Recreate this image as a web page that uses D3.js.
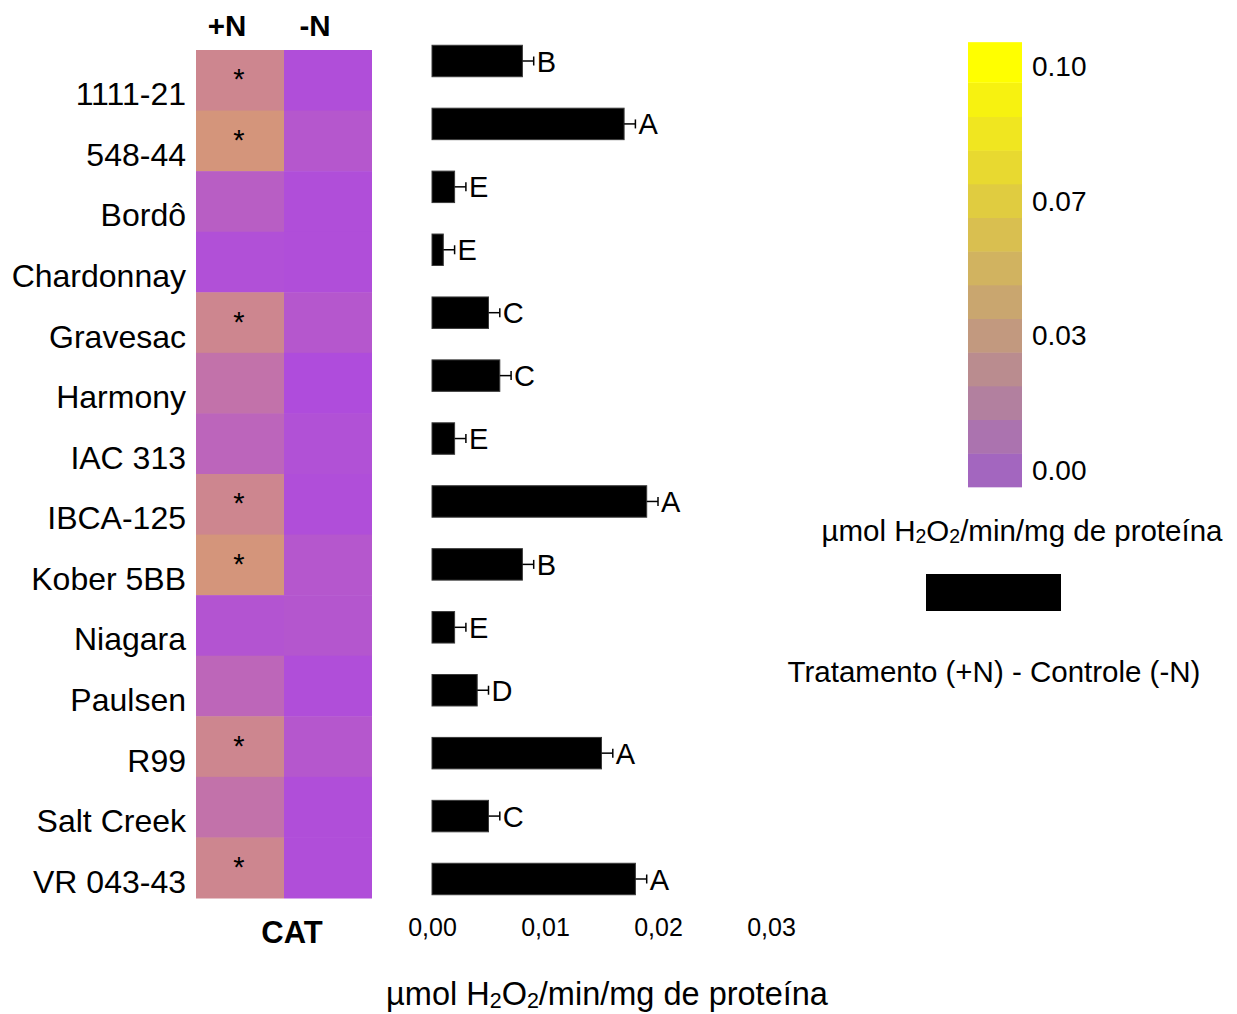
<!DOCTYPE html>
<html>
<head>
<meta charset="utf-8">
<script src="https://cdn.jsdelivr.net/npm/d3@7/dist/d3.min.js"></script>
<style>
  html, body { margin: 0; padding: 0; background: #fff; }
  svg { display: block; font-family: "Liberation Sans", Arial, sans-serif; }
</style>
</head>
<body>
<svg id="chart" width="1237" height="1014"></svg>
<script>
// Cultivars / rootstocks
const cultivars = ["1111-21", "548-44", "Bordô", "Chardonnay", "Gravesac", "Harmony", "IAC 313",
  "IBCA-125", "Kober 5BB", "Niagara", "Paulsen", "R99", "Salt Creek", "VR 043-43"];

// Heatmap columns
const treatments = ["+N", "-N"];

// CAT activity (µmol H2O2/min/mg de proteína) per treatment
const catPlusN  = [0.0216, 0.0273, 0.0066, 0.0015, 0.0216, 0.0141, 0.0093, 0.0216, 0.0273, 0.0030, 0.0099, 0.0216, 0.0141, 0.0216];
const catMinusN = [0.0009, 0.0042, 0.0009, 0.0009, 0.0042, 0.0000, 0.0018, 0.0009, 0.0042, 0.0039, 0.0009, 0.0042, 0.0009, 0.0009];

// Significant difference between +N and -N
const significant = [true, true, false, false, true, false, false, true, true, false, false, true, false, true];

// Difference Tratamento (+N) - Controle (-N), standard error and letter groups
const diffValues = [0.008, 0.017, 0.002, 0.001, 0.005, 0.006, 0.002, 0.019, 0.008, 0.002, 0.004, 0.015, 0.005, 0.018];
const diffErrors = [0.001, 0.001, 0.001, 0.001, 0.001, 0.001, 0.001, 0.001, 0.001, 0.001, 0.001, 0.001, 0.001, 0.001];
const diffLetters = ["B", "A", "E", "E", "C", "C", "E", "A", "B", "E", "D", "A", "C", "A"];

// Bar axis ticks
const barTicks = [0, 0.01, 0.02, 0.03];

// Colour legend: stepped scale and labelled ticks
const legendMax = 0.10;
const legendSteps = 12;
const legendTickValues = [0, 0.1 / 3, 0.2 / 3, 0.1];
const legendTickLabels = ["0.00", "0.03", "0.07", "0.10"];

const sub2 = "<tspan baseline-shift='-0.12em' font-size='0.66em'>2</tspan>";
const unitLabel = "µmol H" + sub2 + "O" + sub2 + "/min/mg de proteína";

const svg = d3.select("#chart");

// ---------- Heatmap ----------
const hx = d3.scaleBand().domain(treatments).range([196, 372]);
const hy = d3.scaleBand().domain(cultivars).range([50, 898]);
const cellColor = d3.scaleLinear().domain([0, 0.03]).range(["#AF4CDC", "#D89C71"]).clamp(true);

const cells = [];
cultivars.forEach((c, i) => {
  cells.push({ cultivar: c, treatment: "+N", value: catPlusN[i], sig: significant[i] });
  cells.push({ cultivar: c, treatment: "-N", value: catMinusN[i], sig: false });
});

svg.append("g").selectAll("rect").data(cells).join("rect")
  .attr("x", d => hx(d.treatment))
  .attr("y", d => hy(d.cultivar))
  .attr("width", hx.bandwidth())
  .attr("height", hy.bandwidth() + 0.5)
  .attr("fill", d => cellColor(d.value));

svg.append("g").selectAll("text").data(cells.filter(d => d.sig)).join("text")
  .attr("x", d => hx(d.treatment) + hx.bandwidth() / 2 - 1)
  .attr("y", d => hy(d.cultivar) + hy.bandwidth() / 2 + 9)
  .attr("text-anchor", "middle")
  .attr("font-size", 29)
  .text("*");

// Row labels
svg.append("g").selectAll("text").data(cultivars).join("text")
  .attr("x", 186)
  .attr("y", d => hy(d) + hy.bandwidth() / 2 + 25)
  .attr("text-anchor", "end")
  .attr("font-size", 32)
  .attr("fill", "#000")
  .text(d => d);

// Column headers
svg.append("g").selectAll("text").data(treatments).join("text")
  .attr("x", d => hx(d) + hx.bandwidth() / 2 - 13)
  .attr("y", 36)
  .attr("text-anchor", "middle")
  .attr("font-size", 29.5)
  .attr("font-weight", "bold")
  .text(d => d);

svg.append("text")
  .attr("x", 292).attr("y", 943)
  .attr("text-anchor", "middle")
  .attr("font-size", 31)
  .attr("font-weight", "bold")
  .text("CAT");

// ---------- Bar chart of differences ----------
const bx = d3.scaleLinear().domain([0, 0.03]).range([432, 771]);
const by = d3.scalePoint().domain(cultivars).range([61, 879]);
const barH = by.step() * 0.5;

const bars = cultivars.map((c, i) => ({ cultivar: c, value: diffValues[i], err: diffErrors[i], letter: diffLetters[i] }));

const gb = svg.append("g");
gb.selectAll("rect").data(bars).join("rect")
  .attr("x", bx(0))
  .attr("y", d => by(d.cultivar) - barH / 2)
  .attr("width", d => bx(d.value) - bx(0))
  .attr("height", barH)
  .attr("fill", "#000")
  .attr("stroke", "#3a3a3a")
  .attr("stroke-width", 1);

gb.selectAll("line.err").data(bars).join("line").attr("class", "err")
  .attr("x1", d => bx(d.value))
  .attr("x2", d => bx(d.value + d.err))
  .attr("y1", d => by(d.cultivar))
  .attr("y2", d => by(d.cultivar))
  .attr("stroke", "#000").attr("stroke-width", 1.5);

gb.selectAll("line.cap").data(bars).join("line").attr("class", "cap")
  .attr("x1", d => bx(d.value + d.err))
  .attr("x2", d => bx(d.value + d.err))
  .attr("y1", d => by(d.cultivar) - 4.5)
  .attr("y2", d => by(d.cultivar) + 4.5)
  .attr("stroke", "#000").attr("stroke-width", 1.5);

gb.selectAll("text").data(bars).join("text")
  .attr("x", d => bx(d.value + d.err) + 3)
  .attr("y", d => by(d.cultivar) + 10.5)
  .attr("font-size", 29)
  .text(d => d.letter);

// Bottom axis with comma decimals
const ptBR = d3.formatLocale({ decimal: ",", thousands: ".", grouping: [3], currency: ["R$", ""] });
const axis = svg.append("g")
  .attr("transform", "translate(0,912)")
  .call(d3.axisBottom(bx).tickValues(barTicks).tickSize(0).tickPadding(0).tickFormat(ptBR.format(".2f")));
axis.select(".domain").remove();
axis.selectAll("text")
  .attr("font-size", 25)
  .attr("font-family", "Liberation Sans, Arial, sans-serif")
  .attr("fill", "#000")
  .attr("dy", "0.95em");

svg.append("text")
  .attr("x", 607).attr("y", 1005)
  .attr("text-anchor", "middle")
  .attr("font-size", 32.5)
  .html(unitLabel);

// ---------- Colour legend ----------
const ly = d3.scaleLinear().domain([0, legendMax]).range([470, 66]);
const legendColor = d3.interpolateRgb("#A366BF", "#FFFF00");
const half = legendMax / legendSteps / 2;
const steps = d3.range(legendSteps + 1).map(k => k * legendMax / legendSteps);
const topExtra = 7;

svg.append("g").selectAll("rect").data(steps).join("rect")
  .attr("x", 968)
  .attr("width", 54)
  .attr("y", (d, i) => i === legendSteps ? ly(d + half) - topExtra : ly(d + half))
  .attr("height", (d, i) => (ly(d - half) - ly(d + half)) + (i === legendSteps ? topExtra : 0.5))
  .attr("fill", (d, i) => legendColor(i / legendSteps));

svg.append("g").selectAll("text").data(legendTickValues).join("text")
  .attr("x", 1032)
  .attr("y", d => ly(d) + 10)
  .attr("font-size", 28)
  .text((d, i) => legendTickLabels[i]);

svg.append("text")
  .attr("x", 1022).attr("y", 541)
  .attr("text-anchor", "middle")
  .attr("font-size", 29.5)
  .html(unitLabel);

// Legend swatch for the bars
svg.append("rect")
  .attr("x", 926).attr("y", 574)
  .attr("width", 135).attr("height", 37)
  .attr("fill", "#000");

svg.append("text")
  .attr("x", 994).attr("y", 682)
  .attr("text-anchor", "middle")
  .attr("font-size", 29.5)
  .text("Tratamento (+N) - Controle (-N)");
</script>
</body>
</html>
